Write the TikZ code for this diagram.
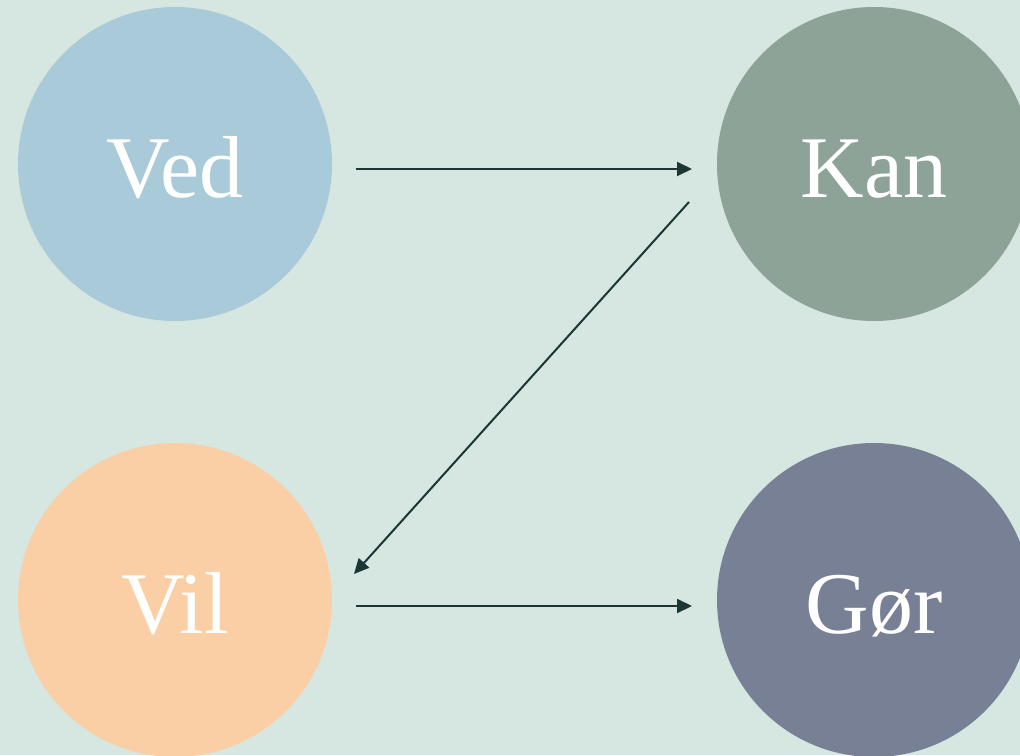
\documentclass[tikz,border=0pt]{standalone}
\usepackage{fontspec}
\setmainfont{Liberation Serif}
\usetikzlibrary{arrows.meta}
\definecolor{bg}{HTML}{D6E6E1}
\definecolor{cved}{HTML}{A9CAD8}
\definecolor{ckan}{HTML}{8EA397}
\definecolor{cvil}{HTML}{FBCFA6}
\definecolor{cgor}{HTML}{778095}
\definecolor{arr}{HTML}{1C3634}
\tikzset{
  blob/.style={circle, minimum size=314pt, inner sep=0pt, draw=none},
  word/.style={text=white, font=\fontsize{88}{90}\selectfont, anchor=base},
  conn/.style={draw=arr, line width=2pt, -{Triangle[length=15pt,width=14pt]}}
}
\begin{document}
\begin{tikzpicture}[x=1pt,y=-1pt]
\clip (0,0) rectangle (1020,755);
\fill[bg] (0,0) rectangle (1020,755);
\useasboundingbox (0,0) rectangle (1020,755);
\node[blob, fill=cved] (ved) at (175,164) {};
\node[blob, fill=ckan] (kan) at (874,164) {};
\node[blob, fill=cvil] (vil) at (175,600) {};
\node[blob, fill=cgor] (gor) at (874,600) {};
\node[word] (tved) at ([yshift=-33pt]ved.center) {Ved};
\node[word] (tkan) at ([yshift=-33pt]kan.center) {Kan};
\node[word] (tvil) at ([yshift=-33pt]vil.center) {Vil};
\node[word] (tgor) at ([yshift=-33pt]gor.center) {Gør};
\coordinate (a1) at (356,169);
\coordinate (a2) at (692,169);
\coordinate (b1) at (689,202);
\coordinate (b2) at (354,574);
\coordinate (c1) at (356,606);
\coordinate (c2) at (692,606);
\draw[conn] (a1) -- (a2);
\draw[conn] (b1) -- (b2);
\draw[conn] (c1) -- (c2);
\end{tikzpicture}
\end{document}
